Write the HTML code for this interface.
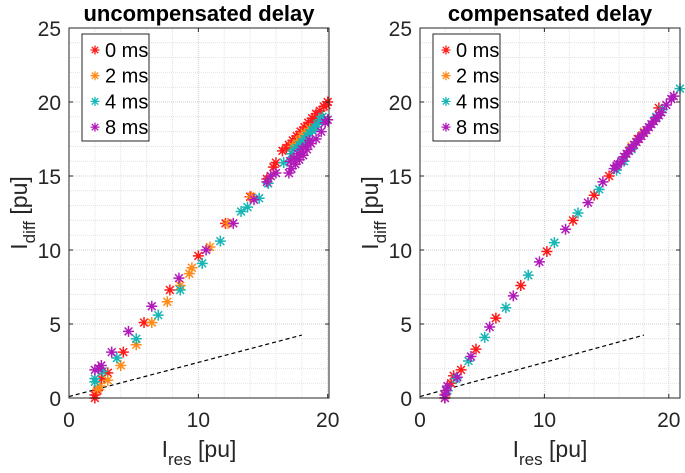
<!DOCTYPE html>
<html><head><meta charset="utf-8"><style>
body{margin:0;background:#fff}
svg{display:block;font-family:"Liberation Sans",Arial,sans-serif}
</style></head><body>
<svg id="c" width="685" height="473" viewBox="0 0 685 473"></svg>
<script>
const seriesNames=["0 ms","2 ms","4 ms","8 ms"];
const seriesColors=["#ff1a1a","#ff8c1a","#17b5b5","#b01ab8"];
const yTicks=[0,5,10,15,20,25];
const xTicks=[0,10,20];
// Left panel (uncompensated) [Ires, Idiff]
const L0=[[2,0],[2,0.2],[2.2,0.5],[2.5,1.3],[3,1.7],[4.2,3.1],[5.8,5.1],[7.8,7.3],[10,9.6],[12.1,11.8],[14,13.6],[15.3,14.8],[15.8,15.6],[16,15.9],[16.5,16.7],[16.8,16.9],[17,17.1],[17.2,17.0],[17.3,17.4],[17.5,17.3],[17.6,17.7],[17.8,17.6],[17.9,18],[18.1,17.9],[18.2,18.3],[18.4,18.2],[18.5,18.6],[18.7,18.5],[18.8,18.9],[19,18.8],[19.1,19.2],[19.4,19.4],[19.7,19.7],[19.9,19.8],[20,20]];
const L1=[[2.2,0.6],[2.4,0.8],[3,1.2],[4,2.2],[5.2,3.6],[6.4,5.1],[7.6,6.5],[8.6,7.6],[9.3,8.4],[9.5,8.8],[10.9,10.2],[12.3,11.8],[14.1,13.6],[15.6,15],[17.3,17],[17.6,17.2],[17.8,17.4],[18,17.7],[18.2,17.9],[18.6,18.2]];
const L2=[[2,1.3],[2,1.1],[2.6,1.8],[3.7,2.7],[5.2,4],[6.9,5.6],[8.6,7.3],[10.3,9.1],[11.7,10.6],[13.3,12.6],[13.8,12.9],[14.7,13.5],[15.4,14.5],[16.6,15.9],[17.2,16.5],[17.4,16.8],[17.6,16.9],[17.8,17.1],[18,17.3],[18.2,17.5],[18.4,17.7],[18.6,17.9],[18.8,18.1],[19,18.3],[19.2,18.5],[19.4,18.8],[19.6,19]];
const L3=[[2,1.9],[2.3,2],[2.5,2.2],[3.3,3.1],[4.6,4.5],[6.4,6.2],[8.5,8.1],[10.6,10],[12.7,11.8],[14.3,13.4],[15.3,14.6],[15.6,15],[16,15.2],[17,15.2],[17.1,16],[17.2,15.5],[17.4,16.2],[17.5,15.8],[17.7,16.5],[17.8,16.1],[18,16.8],[18.1,16.4],[18.3,17],[18.4,16.8],[18.6,17.4],[18.7,17.2],[19.1,17.5],[19.5,18],[19.8,18.6],[20,18.8]];
// Right panel (compensated)
const R0=[[2,0],[2.5,1],[2.7,1.5],[3.3,1.9],[4.5,3.3],[6.1,5.4],[8.1,7.6],[10.2,9.9],[12.3,12],[14,13.7],[15.2,15],[17.5,17.5],[19.2,19.6]];
const R1=[[2.1,0.3],[17,17],[18,18]];
const R2=[[2.2,0.5],[2.9,1.3],[3.9,2.5],[5.2,4.1],[6.9,6.1],[8.7,8.3],[10.8,10.5],[12.7,12.5],[14.4,14.1],[15.8,15.4],[16.4,16],[17,16.8],[19,19],[19.5,19.5],[20.9,20.9]];
const R3=[[2,0],[2,0.2],[2.1,0.5],[2.2,0.8],[3,1.4],[4.1,2.8],[5.6,4.8],[7.5,6.9],[9.6,9.2],[11.7,11.4],[13.5,13.2],[14.7,14.6],[15.6,15.5],[15.8,15.7],[15.9,15.8],[16.2,16],[16.4,16.3],[16.6,16.5],[16.8,16.7],[17,16.9],[17.2,17.1],[17.4,17.3],[17.6,17.5],[17.8,17.7],[18,17.9],[18.2,18.1],[18.4,18.3],[18.6,18.5],[18.8,18.7],[19,18.9],[19.2,19.1],[19.4,19.3],[19.8,19.8],[20.2,20.2],[20.4,20.4]];
const threshX=[0,18];
const threshY=[0.1,4.25];

const NS="http://www.w3.org/2000/svg";
const svg=document.getElementById('c');
function mk(t,a,p){const e=document.createElementNS(NS,t);for(const k in a)e.setAttribute(k,a[k]);(p||svg).appendChild(e);return e;}

function panel(key,title,x0,x1,xmax,series){
  const y0=398,y1=28,ymax=25;
  const g=mk('g',{});
  
  
  const sx=v=>x0+(v/xmax)*(x1-x0), sy=v=>y0-(v/ymax)*(y0-y1);
  for(let v=0;v<=xmax;v+=2){const e=mk('line',{x1:sx(v),x2:sx(v),y1:y0,y2:y1,stroke:v%10==0?'#d0d0d0':'#e2e2e2','stroke-dasharray':'1,1','stroke-width':1},g);}
  for(let v=0;v<=ymax;v+=1){const e=mk('line',{x1:x0,x2:x1,y1:sy(v),y2:sy(v),stroke:v%5==0?'#d0d0d0':'#e2e2e2','stroke-dasharray':'1,1','stroke-width':1},g);}
  const th=mk('line',{x1:sx(threshX[0]),y1:sy(threshY[0]),x2:sx(threshX[1]),y2:sy(threshY[1]),stroke:'#000','stroke-dasharray':'4,3','stroke-width':1.2},g);
  
  series.forEach((pts,i)=>{
    const sg=mk('g',{stroke:seriesColors[i],'stroke-width':1.5},g);
    
    
    pts.forEach(p=>{
      const cx=sx(p[0]),cy=sy(p[1]),r=5.5;
      const m=mk('path',{d:`M${cx-r},${cy}H${cx+r}M${cx},${cy-r}V${cy+r}M${cx-3.9},${cy-3.9}L${cx+3.9},${cy+3.9}M${cx-3.9},${cy+3.9}L${cx+3.9},${cy-3.9}`},sg);
      
      
    });
  });
  const b=mk('rect',{x:x0,y:y1,width:x1-x0,height:y0-y1,fill:'none',stroke:'#262626','stroke-width':1},g);
  
  xTicks.forEach(v=>{
    mk('line',{x1:sx(v),x2:sx(v),y1:y0,y2:y0-4,stroke:'#262626'},g);mk('line',{x1:sx(v),x2:sx(v),y1:y1,y2:y1+4,stroke:'#262626'},g);
    const t=mk('text',{x:sx(v),y:y0+29,'text-anchor':'middle','font-size':21,fill:'#262626'},g);t.textContent=v;
    
  });
  yTicks.forEach(v=>{
    mk('line',{x1:x0,x2:x0+4,y1:sy(v),y2:sy(v),stroke:'#262626'},g);mk('line',{x1:x1,x2:x1-4,y1:sy(v),y2:sy(v),stroke:'#262626'},g);
    const t=mk('text',{x:x0-8,y:sy(v)+8,'text-anchor':'end','font-size':21,fill:'#262626'},g);t.textContent=v;
    
  });
  const tt=mk('text',{x:(x0+x1)/2,y:21,'text-anchor':'middle','font-size':22,'font-weight':'bold',fill:'#000'},g);tt.textContent=title;
  
  const xl=mk('text',{x:(x0+x1)/2,y:457,'text-anchor':'middle','font-size':23,fill:'#262626'},g);
  xl.innerHTML='I<tspan font-size="17" dy="8">res</tspan><tspan dy="-8"> [pu]</tspan>';
  
  const yl=mk('text',{x:0,y:0,'text-anchor':'middle','font-size':23,fill:'#262626',transform:`translate(${x0-42},${(y0+y1)/2}) rotate(-90)`},g);
  yl.innerHTML='I<tspan font-size="17" dy="8">diff</tspan><tspan dy="-8"> [pu]</tspan>';
  
  const lg=mk('g',{},g);
  
  mk('rect',{x:x0+13,y:34,width:67,height:107,fill:'#fff',stroke:'#262626','stroke-width':1},lg);
  seriesNames.forEach((n,i)=>{
    const cy=50+i*25.7,cx=x0+26,r=4.5;
    const e=mk('g',{},lg);
    
    mk('path',{d:`M${cx-r},${cy}H${cx+r}M${cx},${cy-r}V${cy+r}M${cx-3.2},${cy-3.2}L${cx+3.2},${cy+3.2}M${cx-3.2},${cy+3.2}L${cx+3.2},${cy-3.2}`,stroke:seriesColors[i],'stroke-width':1.3},e);
    const t=mk('text',{x:cx+10,y:cy+7,'font-size':20,fill:'#000'},e);t.textContent=n;
  });
}
panel('uncompensated','uncompensated delay',69,329,20.1,[L0,L1,L2,L3]);
panel('compensated','compensated delay',420,680,20.9,[R0,R1,R2,R3]);
</script>
</body></html>
